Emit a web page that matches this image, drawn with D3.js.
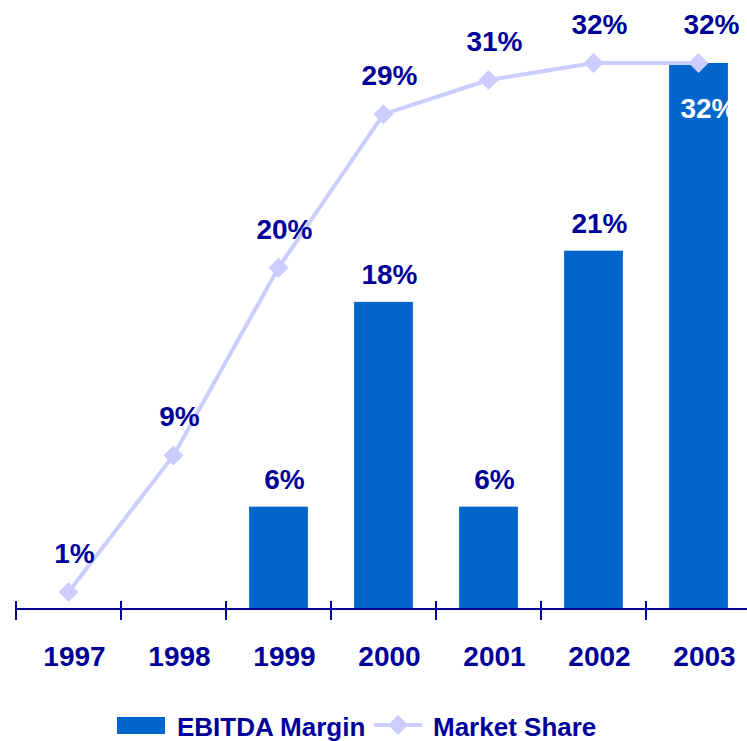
<!DOCTYPE html>
<html>
<head>
<meta charset="utf-8">
<script src="https://cdn.jsdelivr.net/npm/d3@7"></script>
<style>
  html, body { margin: 0; padding: 0; background: #ffffff; }
  svg { display: block; font-family: "Liberation Sans", Arial, sans-serif; font-weight: bold; }
</style>
</head>
<body>
<svg id="chart" width="747" height="741"></svg>
<script>
// Data
const years = ["1997", "1998", "1999", "2000", "2001", "2002", "2003"];
const ebitdaMargin = [null, null, 6, 18, 6, 21, 32];
const marketShare = [1, 9, 20, 29, 31, 32, 32];
const legendLabels = ["EBITDA Margin", "Market Share"];

const navy = "#000099";
const barBlue = "#0066CC";
const lineLav = "#CCCCFF";

const svg = d3.select("#chart");

const x = d3.scaleBand()
  .domain(years)
  .range([16, 751])
  .paddingInner(0.44)
  .paddingOuter(0.22);

const y = d3.scaleLinear()
  .domain([0, 32])
  .range([609, 63]);

const cx = d => x(d) + x.bandwidth() / 2;
const textShift = 6;
const pct = v => d3.format(".0f")(v) + "%";

// Bars
const barData = years.map((yr, i) => ({ yr, v: ebitdaMargin[i] })).filter(d => d.v != null);
svg.append("g").selectAll("rect")
  .data(barData)
  .join("rect")
  .attr("x", d => x(d.yr))
  .attr("y", d => y(d.v))
  .attr("width", x.bandwidth())
  .attr("height", d => y(0) - y(d.v))
  .attr("fill", barBlue);

// Bar value labels (the tallest bar carries its label inside in white)
svg.append("g").selectAll("text")
  .data(barData)
  .join("text")
  .attr("x", d => cx(d.yr) + (d.yr === "2003" ? 10 : textShift))
  .attr("y", d => d.yr === "2003" ? y(d.v) + 55 : y(d.v) - 18)
  .attr("text-anchor", "middle")
  .attr("font-size", 28)
  .attr("fill", d => d.yr === "2003" ? "#ffffff" : navy)
  .text(d => pct(d.v));

// Axis line with ticks at category boundaries
const axisG = svg.append("g");
const step = x.step();
const x0 = x.range()[0];
axisG.append("line")
  .attr("x1", x0).attr("x2", x.range()[1])
  .attr("y1", y(0)).attr("y2", y(0))
  .attr("stroke", navy).attr("stroke-width", 2);
axisG.selectAll("line.tick")
  .data(d3.range(years.length + 1))
  .join("line")
  .attr("class", "tick")
  .attr("x1", i => x0 + i * step).attr("x2", i => x0 + i * step)
  .attr("y1", y(0) - 8).attr("y2", y(0) + 11)
  .attr("stroke", navy).attr("stroke-width", 2);
axisG.selectAll("text")
  .data(years)
  .join("text")
  .attr("x", d => cx(d) + textShift)
  .attr("y", 666)
  .attr("text-anchor", "middle")
  .attr("font-size", 28)
  .attr("fill", navy)
  .text(d => d);

// Market share line
const lineData = years.map((yr, i) => ({ yr, v: marketShare[i] }));
svg.append("path")
  .datum(lineData)
  .attr("d", d3.line().x(d => cx(d.yr)).y(d => y(d.v)))
  .attr("fill", "none")
  .attr("stroke", lineLav)
  .attr("stroke-width", 4);

const diamond = d3.symbol().type(d3.symbolSquare).size(200);
svg.append("g").selectAll("path")
  .data(lineData)
  .join("path")
  .attr("d", diamond)
  .attr("transform", d => `translate(${cx(d.yr)},${y(d.v)}) rotate(45)`)
  .attr("fill", lineLav);

svg.append("g").selectAll("text")
  .data(lineData)
  .join("text")
  .attr("x", d => cx(d.yr) + (d.yr === "2003" ? 13 : textShift))
  .attr("y", d => y(d.v) - 29)
  .attr("text-anchor", "middle")
  .attr("font-size", 28)
  .attr("fill", navy)
  .text(d => pct(d.v));

// Legend
const lg = svg.append("g");
lg.append("rect")
  .attr("x", 117).attr("y", 717).attr("width", 48).attr("height", 17)
  .attr("fill", barBlue);
lg.append("text")
  .attr("x", 177).attr("y", 736)
  .attr("font-size", 26).attr("fill", navy)
  .text(legendLabels[0]);
lg.append("line")
  .attr("x1", 374).attr("x2", 422).attr("y1", 725).attr("y2", 725)
  .attr("stroke", lineLav).attr("stroke-width", 4);
lg.append("path")
  .attr("d", diamond)
  .attr("transform", "translate(398,725) rotate(45)")
  .attr("fill", lineLav);
lg.append("text")
  .attr("x", 433).attr("y", 736)
  .attr("font-size", 26).attr("fill", navy)
  .text(legendLabels[1]);
</script>
</body>
</html>
